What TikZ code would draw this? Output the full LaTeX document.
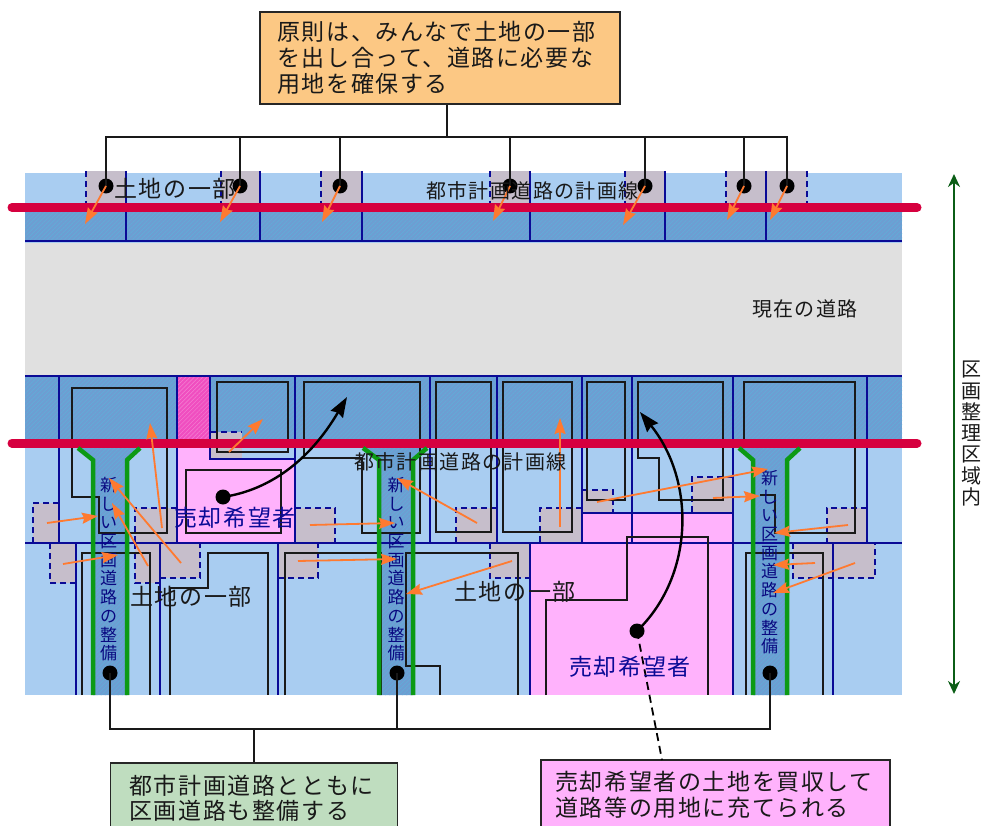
\documentclass[tikz,border=0pt]{standalone}
\usepackage{fontspec}
\usetikzlibrary{patterns.meta,arrows.meta,calc}
\newfontfamily\jp[LetterSpace=7]{Noto Sans CJK JP}
\definecolor{landblue}{HTML}{A9CDF1}
\definecolor{hatchbase}{HTML}{6E9DD2}
\definecolor{hatchline}{HTML}{62ACD8}
\definecolor{roadgrey}{HTML}{E0E0E0}
\definecolor{parcelgrey}{HTML}{C6BECB}
\definecolor{planred}{HTML}{D6003F}
\definecolor{lotblue}{HTML}{0A0A96}
\definecolor{arroworange}{HTML}{FF7A30}
\definecolor{roadgreen}{HTML}{0C9A14}
\definecolor{lightpink}{HTML}{FFB2FC}
\definecolor{hotpink}{HTML}{F04EC0}
\definecolor{boxorange}{HTML}{FCC884}
\definecolor{boxgreen}{HTML}{BFDDBF}
\definecolor{darkgreen}{HTML}{0B5E16}
\tikzset{
  hatched/.style={fill=hatchbase,postaction={pattern={Lines[angle=45,distance=3pt,line width=0.7pt]},pattern color=hatchline}},
  greylot/.style={fill=parcelgrey},
  lotline/.style={draw=lotblue,line width=1.9pt},
  dashlot/.style={draw=lotblue,line width=1.9pt,dash pattern=on 6pt off 4pt},
  parcel/.style={draw=black!90,line width=2.1pt,line join=miter},
  planline/.style={draw=planred,line width=9pt},
  greenroad/.style={draw=roadgreen,line width=4.5pt},
  orangearrow/.style={draw=arroworange,line width=1.8pt,-{Stealth[length=16pt,width=11pt,inset=2pt]}},
  blackarrow/.style={draw=black,line width=2.4pt,-{Stealth[length=20pt,width=14pt,inset=2pt]}},
  leader/.style={draw=black!90,line width=1.8pt},
  blackdot/.style={circle,fill=black,inner sep=0pt,minimum size=15pt},
  callout/.style={draw=black!85,line width=1.8pt,inner sep=0pt},
  lab/.style={inner sep=0pt,anchor=west,text=black!90},
  big/.style={font=\jp\fontsize{23}{27}\selectfont},
  mid/.style={font=\jp\fontsize{20}{24}\selectfont},
  vert/.style={font=\jp\fontsize{17}{18.7}\selectfont,text=lotblue!85!black,align=center,inner sep=0pt,anchor=north},
}
\begin{document}
\begin{tikzpicture}[x=1pt,y=-1pt]
\useasboundingbox (0,0) rectangle (984,826);
% ground
\fill[landblue] (25,173) rectangle (902,695);
\fill[roadgrey] (25,243) rectangle (902,375);
\path[hatched] (25,208) rectangle (902,241);
\path[hatched] (25,376) rectangle (902,443);
% pink lots
\fill[lightpink] (177,443) rectangle (295,543);
\fill[lightpink] (582,513) rectangle (733,543);
\fill[lightpink] (531,543) rectangle (733,695);
\path[fill=hotpink,postaction={pattern={Lines[angle=45,distance=3pt,line width=0.5pt]},pattern color=hotpink!70!white}] (177,376) rectangle (210,443);
\fill[landblue] (210,443) rectangle (295,459);
\path[hatched] (210,376) rectangle (295,443);
% new roads
\path[hatched] (78,443) -- (78,448) -- (93,460) -- (93,695) -- (127,695) -- (127,460) -- (140,448) -- (140,443) -- cycle;
\path[hatched] (363,443) -- (363,448) -- (379,460) -- (379,695) -- (413,695) -- (413,460) -- (427,448) -- (427,443) -- cycle;
\path[hatched] (739,443) -- (739,448) -- (753,460) -- (753,695) -- (787,695) -- (787,460) -- (800,448) -- (800,443) -- cycle;
% grey lots, top strip
\foreach \a/\b in {86/126,221/260,321/362,490/530,625/665,726/766,766/807}
  \fill[parcelgrey] (\a,171) rectangle (\b,203);
\foreach \a in {86,221,321,490,625,726,807}
  \draw[dashlot] (\a,171) -- (\a,203);
\foreach \a in {126,260,362,530,665,766}
  \draw[lotline] (\a,171) -- (\a,241);
\draw[lotline] (25,241) -- (902,241);
% grey lots, middle
\foreach \a/\t/\b/\e in {33/503/59/543,135/508/177/543,295/508/335/543,456/508/497/543,540/508/582/543,582/490/613/513,692/477/733/513,827/508/867/543,50/543/76/583,135/543/160/583,160/543/200/578,278/543/318/578,490/543/530/578,793/543/875/578}
  \fill[parcelgrey] (\a,\t) rectangle (\b,\e);
\fill[parcelgrey] (211,432) rectangle (242,459);
% lot boundaries, blue
\draw[lotline] (25,376) -- (902,376);
\draw[lotline] (25,543) -- (902,543);
\foreach \a in {59,177,295,430,497,582,632,733,867}
  \draw[lotline] (\a,376) -- (\a,543);
\foreach \a in {76,160,278,530,733,833}
  \draw[lotline] (\a,543) -- (\a,695);
\draw[lotline] (210,376) -- (210,459) -- (295,459);
\draw[lotline] (582,513) -- (733,513);
% dashed edges
\draw[dashlot] (59,503) -- (33,503) -- (33,543);
\draw[dashlot] (177,508) -- (135,508) -- (135,543);
\draw[dashlot] (295,508) -- (335,508) -- (335,543);
\draw[dashlot] (497,508) -- (456,508) -- (456,543);
\draw[dashlot] (582,508) -- (540,508) -- (540,543);
\draw[dashlot] (582,490) -- (613,490) -- (613,513);
\draw[dashlot] (733,477) -- (692,477) -- (692,513);
\draw[dashlot] (867,508) -- (827,508) -- (827,543);
\draw[dashlot] (211,432) -- (242,432);
\draw[dashlot] (211,459) -- (242,459);
\draw[dashlot] (76,583) -- (50,583) -- (50,543);
\draw[dashlot] (135,543) -- (135,583) -- (160,583);
\draw[dashlot] (160,578) -- (200,578) -- (200,543);
\draw[dashlot] (278,578) -- (318,578) -- (318,543);
\draw[dashlot] (490,543) -- (490,578) -- (530,578);
\draw[dashlot] (793,543) -- (793,578) -- (875,578) -- (875,543);
% parcels, upper row
\draw[parcel] (72,388) -- (167,388) -- (167,533) -- (99,533) -- (99,497) -- (72,497) -- cycle;
\draw[parcel] (217,382) rectangle (288,452);
\draw[parcel] (186,470) rectangle (281,533);
\draw[parcel] (304,382) -- (420,382) -- (420,533) -- (362,533) -- (362,458) -- (304,458) -- cycle;
\draw[parcel] (436,382) rectangle (491,532);
\draw[parcel] (503,382) rectangle (572,532);
\draw[parcel] (587,382) rectangle (625,500);
\draw[parcel] (638,382) -- (723,382) -- (723,500) -- (659,500) -- (659,458) -- (638,458) -- cycle;
\draw[parcel] (744,443) -- (744,382) -- (855,382) -- (855,533) -- (775,533) -- (775,495) -- (760,495);
% parcels, lower row
\draw[parcel] (82,695) -- (82,553) -- (150,553) -- (150,695);
\draw[parcel] (170,695) -- (170,588) -- (208,588) -- (208,553) -- (268,553) -- (268,695);
\draw[parcel] (285,695) -- (285,553) -- (381,553) -- (381,695);
\draw[parcel] (440,695) -- (440,666) -- (406,666) -- (406,553) -- (518,553) -- (518,695);
\draw[parcel] (546,695) -- (546,600) -- (627,600) -- (627,537) -- (708,537) -- (708,695);
\draw[parcel] (746,695) -- (746,553) -- (823,553) -- (823,695);
% planned road lines
\draw[planline,line cap=round] (12,207.5) -- (917,207.5);
\draw[planline,line cap=round] (12,443) -- (917,443);
% green kerbs
\draw[greenroad] (78,448) -- (93,460) -- (93,695);
\draw[greenroad] (140,448) -- (127,460) -- (127,695);
\draw[greenroad] (363,448) -- (379,460) -- (379,695);
\draw[greenroad] (427,448) -- (413,460) -- (413,695);
\draw[greenroad] (739,448) -- (753,460) -- (753,695);
\draw[greenroad] (800,448) -- (787,460) -- (787,695);
% road labels
\node[vert] (roadtxtA) at (108.5,477) {新\\し\\い\\区\\画\\道\\路\\の\\整\\備};
\node[vert] (roadtxtB) at (396,477) {新\\し\\い\\区\\画\\道\\路\\の\\整\\備};
\node[vert] (roadtxtC) at (769.5,470) {新\\し\\い\\区\\画\\道\\路\\の\\整\\備};
% call-out boxes
\node[callout,fill=boxorange,minimum width=360pt,minimum height=92pt] (topbox) at (440,58) {};
\node[callout,fill=boxgreen,minimum width=287pt,minimum height=66pt] (greenbox) at (254,796) {};
\node[callout,fill=lightpink,minimum width=349pt,minimum height=70pt] (pinkbox) at (715.5,795) {};
% dots
\foreach \n/\x in {ta/106,tb/240,tc/340,td/510,te/645,tf/744,tg/787}
  \node[blackdot] (\n) at (\x,186) {};
\foreach \n/\x in {ra/110,rb/397,rc/770}
  \node[blackdot] (\n) at (\x,673) {};
\node[blackdot] (sa) at (223,497) {};
\node[blackdot] (sb) at (637,631) {};
% top leaders
\coordinate (topjoin) at (447,137);
\draw[leader] (topbox.south -| topjoin) -- (topjoin);
\draw[leader] (ta.center) |- (topjoin);
\draw[leader] (tg.center) |- (topjoin);
\foreach \n in {tb,tc,td,te,tf}
  \draw[leader] (\n.center) -- (\n |- topjoin);
% bottom leaders
\coordinate (botjoin) at (254,729);
\draw[leader] (ra.center) |- (botjoin);
\draw[leader] (rc.center) |- (botjoin);
\draw[leader] (rb.center) -- (rb |- botjoin);
\draw[leader] (botjoin) -- (greenbox.north);
\coordinate (pinkin) at (662,760);
\draw[draw=black,line width=1.8pt,dash pattern=on 8pt off 5pt] (sb.center) -- (pinkin);
% top arrows
\foreach \n/\x/\y in {ta/85/224,tb/220/222,tc/322/222,td/493/221,te/623/225,tf/727/220,tg/770/220}{
  \coordinate (h\n) at (\x,\y);
  \draw[orangearrow] (\n.center) -- (h\n);
}
% sale arrows
\coordinate (sahead) at (347,397);
\coordinate (sbhead) at (640,412);
\draw[blackarrow] (sa.center) .. controls (270,490) and (310,460) .. (sahead);
\draw[blackarrow] (sb.center) .. controls (695,575) and (695,480) .. (sbhead);
% orange arrows
\foreach \a/\b/\c/\d in {47/523/98/516, 162/528/150/423, 181/563/109/478, 148/566/112/503, 63/564/118/555, 229/452/263/419, 310/525/395/523, 298/561/397/559, 512/561/406/594, 477/523/397/478, 560/527/560/418, 597/502/768/469, 713/498/760/496, 848/525/774/533, 815/563/773/565, 855/563/773/593}
  \draw[orangearrow] (\a,\b) -- (\c,\d);
% texts
\node[lab,big] (t1) at (277,32) {原則は、みんなで土地の一部};
\node[lab,big] (t2) at (277,58) {を出し合って、道路に必要な};
\node[lab,big] (t3) at (277,84) {用地を確保する};
\node[lab,big] (t4) at (114,189) {土地の一部};
\node[lab,mid] (t5) at (426,191) {都市計画道路の計画線};
\node[lab,mid] (t6) at (752,309) {現在の道路};
\node[lab,mid] (t7) at (354,462) {都市計画道路の計画線};
\node[lab,big,text=lotblue] (t8) at (174,518) {売却希望者};
\node[lab,big] (t9) at (130,597) {土地の一部};
\node[lab,big] (t10) at (454,592) {土地の一部};
\node[lab,big,text=lotblue] (t11) at (569,667) {売却希望者};
\node[lab,big] (t12) at (129,786) {都市計画道路とともに};
\node[lab,big] (t13) at (129,811) {区画道路も整備する};
\node[lab,big] (t14) at (555,782) {売却希望者の土地を買収して};
\node[lab,big] (t15) at (555,808) {道路等の用地に充てられる};
\node[font=\jp\fontsize{20}{21.3}\selectfont,text=black!90,align=center,inner sep=0pt,anchor=north] (t16) at (971,361) {区\\画\\整\\理\\区\\域\\内};
% extent arrow
\coordinate (extA) at (954,174);
\coordinate (extB) at (954,694);
\draw[draw=darkgreen,line width=2pt,{Stealth[length=13pt,width=12pt]}-{Stealth[length=13pt,width=12pt]}] (extA) -- (extB);
\end{tikzpicture}
\end{document}
